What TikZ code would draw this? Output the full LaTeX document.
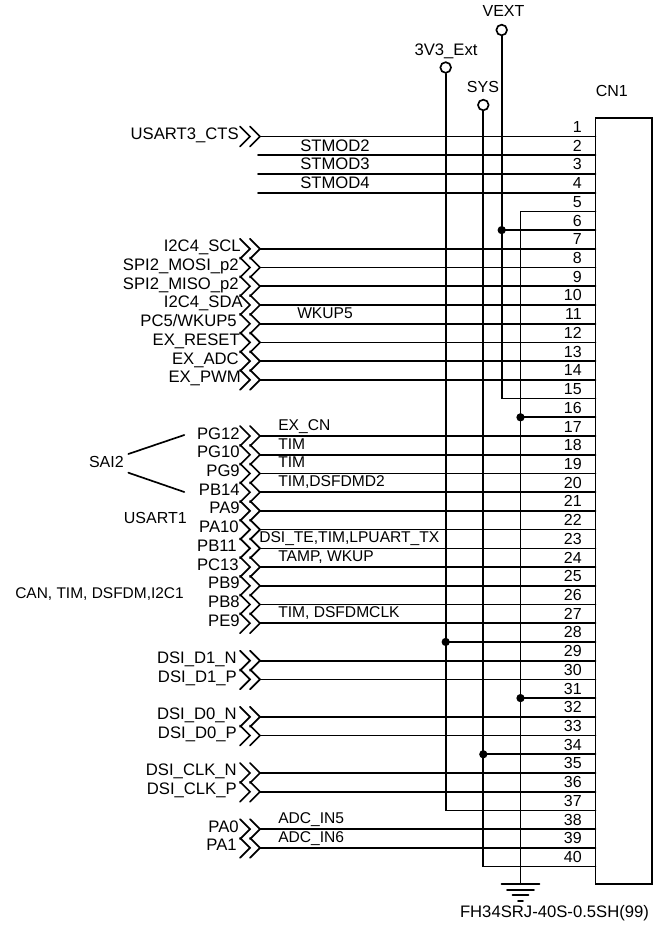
\documentclass[tikz,border=0pt]{standalone}
\usepackage{fontspec}
\setmainfont{Liberation Sans}
\usetikzlibrary{calc}
\tikzset{
    wire/.style={line width=1.25pt, line cap=round},
    txt/.style={inner sep=0pt, font=\fontsize{12}{14}\selectfont, text=black},
    bigtxt/.style={txt, font=\fontsize{12.5}{14}\selectfont},
    rtxt/.style={bigtxt, anchor=base east},
    ltxt/.style={txt, font=\fontsize{11.7}{14}\selectfont, anchor=base west},
    stmodtxt/.style={bigtxt, anchor=base west},
    ctxt/.style={txt, anchor=base},
    jdot/.style={circle, fill, inner sep=0pt, minimum size=6.2pt},
    opendot/.style={circle, draw, line width=1.25pt, fill=white, inner sep=0pt, minimum size=8pt}
}
\begin{document}
\begin{tikzpicture}[x=0.75pt, y=-0.75pt]
            \useasboundingbox (0,0) rectangle (654,926);
            \pgfmathsetmacro{\ytop}{136.5}
            \pgfmathsetmacro{\pitch}{18.72}
            \pgfmathsetmacro{\xpin}{595.5}
            \pgfmathsetmacro{\xnet}{260}
            \foreach \i in {1,...,40} {
                \coordinate (pin\i) at (\xpin,{\ytop+(\i-1)*\pitch});
                \node[txt, anchor=base east] (num\i) at ([shift={(-13.5,-4)}]pin\i) {\i};
            }
            \draw[wire] (595.5,117.7) rectangle (651.7,884);
            \foreach \i in {1,7,8,9,10,11,12,13,14,17,18,19,20,21,22,23,24,25,26,27,29,30,32,33,35,36,38,39} {
                \coordinate (net\i) at (\xnet,{\ytop+(\i-1)*\pitch});
                \draw[wire] (net\i) -- (pin\i);
                \draw[wire] ([shift={(-20,-10)}]net\i) -- ([shift={(-10,0)}]net\i) -- ([shift={(-20,10)}]net\i);
                \draw[wire] ([shift={(-10,-10)}]net\i) -- (net\i) -- ([shift={(-10,10)}]net\i);
            }
            \foreach \i in {2,3,4} {
                \coordinate (net\i) at (258,{\ytop+(\i-1)*\pitch});
                \draw[wire] (net\i) -- (pin\i);
                \node[stmodtxt] (func\i) at (300,{\ytop+(\i-1)*\pitch-4}) {STMOD\i};
            }
            \foreach \i/\xe/\name in {1/239/USART3\_CTS, 7/241/I2C4\_SCL, 8/239/SPI2\_MOSI\_p2, 9/239/SPI2\_MISO\_p2,
                10/243/I2C4\_SDA, 11/237/{PC5/WKUP5}, 12/240/EX\_RESET, 13/239/EX\_ADC, 14/241/EX\_PWM,
                17/240/PG12, 18/240/PG10, 19/240/PG9, 20/240/PB14, 21/240/PA9, 22/239/PA10, 23/237/PB11,
                24/239/PC13, 25/240/PB9, 26/240/PB8, 27/240/PE9,
                29/237/DSI\_D1\_N, 30/237/DSI\_D1\_P, 32/237/DSI\_D0\_N, 33/237/DSI\_D0\_P,
                35/237/DSI\_CLK\_N, 36/237/DSI\_CLK\_P, 38/239/PA0, 39/237/PA1} {
                \node[rtxt] (lbl\i) at (\xe,{\ytop+(\i-1)*\pitch+3}) {\name};
            }
            \foreach \i/\xs/\name in {11/297/WKUP5,
                17/278/EX\_CN, 18/278/TIM, 19/278/TIM, 20/278/{TIM,DSFDMD2},
                23/259/{DSI\_TE,TIM,LPUART\_TX}, 24/278/{TAMP, WKUP}, 27/278/{TIM, DSFDMCLK},
                38/278/ADC\_IN5, 39/278/ADC\_IN6} {
                \node[ltxt] (func\i) at (\xs,{\ytop+(\i-1)*\pitch-5.5}) {\name};
            }
            \node[opendot] (vext) at (501.7,30) {};
            \node[opendot] (vbus) at (445.7,67.5) {};
            \node[opendot] (sys) at (483.3,105) {};
            \coordinate (gnd) at (520.5,884);
            \node[ctxt] (vextlbl) at (503.5,16) {VEXT};
            \node[bigtxt, anchor=base] (vbuslbl) at (446,55) {3V3\_Ext};
            \node[ctxt] (syslbl) at (483,92) {SYS};
            \node[txt, anchor=base west] (cnlbl) at (595.5,96) {CN1};
            \node[bigtxt, anchor=base] (partlbl) at (554.5,917) {FH34SRJ-40S-0.5SH(99)};
            \draw[wire] (vext) -- (vext|-pin15) -- (pin15);
            \draw[wire] (vbus) -- (vbus|-pin37) -- (pin37);
            \draw[wire] (sys) -- (sys|-pin40) -- (pin40);
            \draw[wire] (pin5) -- (gnd|-pin5) -- (gnd);
            \node[jdot] (jext) at (vext|-pin6) {};
            \node[jdot] (jvbus) at (vbus|-pin28) {};
            \node[jdot] (jsys) at (sys|-pin34) {};
            \foreach \i in {16,31} {
                \node[jdot] (jgnd\i) at (gnd|-pin\i) {};
                \draw[wire] (jgnd\i.center) -- (pin\i);
            }
            \draw[wire] (jext.center) -- (pin6);
            \draw[wire] (jvbus.center) -- (pin28);
            \draw[wire] (jsys.center) -- (pin34);
            \foreach \dy/\hw in {0/19,6/13.5,11/8,17/2.5} {
                \draw[wire] ([shift={(-\hw,\dy)}]gnd) -- ([shift={(\hw,\dy)}]gnd);
            }
            \node[txt, anchor=base east] (sai) at (124,467) {SAI2};
            \node[txt, anchor=base east] (usart) at (187,523) {USART1};
            \node[txt, font=\fontsize{11.6}{14}\selectfont, anchor=base east] (can) at (184,598) {CAN, TIM, DSFDM,I2C1};
            \draw[wire] (128.3,454) -- (184.3,435);
            \draw[wire] (128.3,472.7) -- (184.3,492);
        \end{tikzpicture}
\end{document}
